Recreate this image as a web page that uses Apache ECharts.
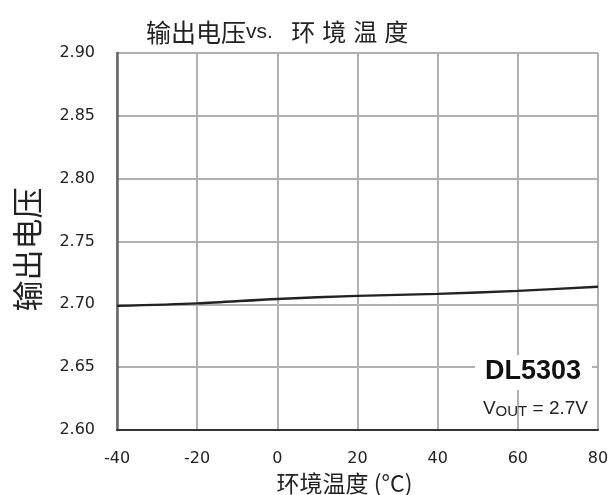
<!DOCTYPE html>
<html>
<head>
<meta charset="utf-8">
<script src="https://cdn.jsdelivr.net/npm/echarts@6/dist/echarts.min.js"></script>
<style>
  html, body { margin: 0; padding: 0; background: #fff; }
  #chart { width: 610px; height: 495px; }
</style>
</head>
<body>
<div id="chart"></div>
<script>
// Output voltage vs. ambient temperature (DL5303, Vout = 2.7V)
const temperatures = [-40, -20, 0, 20, 40, 60, 80];
const outputVoltage = [2.6988, 2.7008, 2.7043, 2.7067, 2.7083, 2.7107, 2.7140];
const yTicks = [2.60, 2.65, 2.70, 2.75, 2.80, 2.85, 2.90];

const chart = echarts.init(document.getElementById('chart'), null, { renderer: 'canvas' });

const latin = '"DejaVu Sans", sans-serif';
const arial = '"Liberation Sans", Arial, sans-serif';
const cjk = '"Noto Sans CJK SC", sans-serif';
const gridColor = '#b0b0b0';

chart.setOption({
  animation: false,
  backgroundColor: '#ffffff',
  title: {
    text: '{a|输出电压}{b|vs. }{c|环}{c|境}{c|温}{c|度}',
    left: 141,
    top: 12,
    textStyle: {
      fontWeight: 'normal',
      rich: {
        a: { fontFamily: cjk, fontSize: 25, fontWeight: 'normal', color: '#222', lineHeight: 30 },
        b: { fontFamily: arial, fontSize: 21, fontWeight: 'normal', color: '#222', lineHeight: 30, padding: [0, 9, 0, 0] },
        c: { fontFamily: cjk, fontSize: 24, fontWeight: 'normal', color: '#222', width: 31, align: 'center', lineHeight: 30 }
      }
    }
  },
  grid: { left: 117, right: 12, top: 53, bottom: 65, outerBoundsMode: 'none' },
  xAxis: {
    type: 'value',
    min: -40, max: 80, interval: 20,
    name: '环境温度 (°C)',
    nameLocation: 'middle',
    nameGap: 42,
    nameTextStyle: { fontFamily: cjk, fontSize: 23, color: '#222', padding: [0, 26, 0, 0] },
    axisLine: { show: true, onZero: false, lineStyle: { color: '#333', width: 2 } },
    axisTick: { show: false },
    axisLabel: { fontFamily: latin, fontSize: 16, color: '#222', margin: 21 },
    splitLine: { show: true, lineStyle: { color: gridColor, width: 2 } }
  },
  yAxis: {
    type: 'value',
    min: yTicks[0], max: yTicks[yTicks.length - 1], interval: 0.05,
    name: '输出电压',
    nameLocation: 'middle',
    nameGap: 74,
    nameRotate: 90,
    nameTextStyle: { fontFamily: cjk, fontSize: 31, color: '#222', padding: [0, 16, 0, 0] },
    axisLine: { show: true, onZero: false, lineStyle: { color: '#666', width: 2.5 } },
    axisTick: { show: false },
    axisLabel: {
      fontFamily: latin, fontSize: 16, color: '#222', margin: 22,
      formatter: v => v.toFixed(2)
    },
    splitLine: { show: true, lineStyle: { color: gridColor, width: 2 } }
  },
  series: [{
    type: 'line',
    data: temperatures.map((t, i) => [t, outputVoltage[i]]),
    smooth: 0.3,
    symbol: 'none',
    lineStyle: { color: '#222', width: 2.4 },
    z: 3
  }],
  graphic: [
    {
      type: 'rect',
      shape: { x: 475, y: 355, width: 117, height: 35 },
      style: { fill: '#ffffff' },
      z: 10
    },
    {
      type: 'text',
      x: 581, y: 372,
      style: {
        text: 'DL5303',
        fontFamily: arial, fontSize: 27, fontWeight: 'bold',
        fill: '#111', align: 'right', verticalAlign: 'middle'
      },
      z: 11
    },
    {
      type: 'text',
      x: 588, y: 409,
      style: {
        text: '{v|V}{s|OUT}{v| = 2.7V}',
        align: 'right', verticalAlign: 'middle',
        rich: {
          v: { fontFamily: arial, fontSize: 19, fill: '#222' },
          s: { fontFamily: arial, fontSize: 15, fill: '#222', padding: [6, 0, 0, 0] }
        }
      },
      z: 11
    }
  ]
});
</script>
</body>
</html>
